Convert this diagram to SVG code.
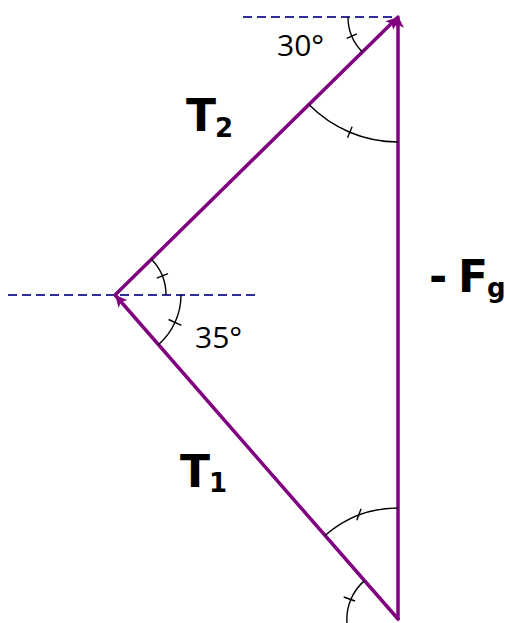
<svg xmlns="http://www.w3.org/2000/svg" width="505" height="623" viewBox="0 0 505 623">
  <style>
    .vec { stroke: #800080; stroke-width: 3.5; fill: none; stroke-linecap: round; }
    .ref { stroke: #2e2e98; stroke-width: 1.8; stroke-dasharray: 9 5; fill: none; }
    .arc { stroke: #000000; stroke-width: 1.4; fill: none; }
    .big { font-family: "DejaVu Sans", Verdana, sans-serif; font-weight: bold; font-size: 44px; fill: #000; }
    .sub { font-family: "DejaVu Sans", Verdana, sans-serif; font-weight: bold; font-size: 26px; fill: #000; }
    .ang { font-family: "Open Sans", "Liberation Sans", sans-serif; font-size: 30px; fill: #000; }
  </style>
  <defs>
    <marker id="ah" viewBox="0 0 10 10" refX="9" refY="5" markerWidth="3.4" markerHeight="3.4" markerUnits="strokeWidth" orient="auto">
      <path d="M0,0 L10,5 L0,10 L2.5,5 Z" fill="#800080"/>
    </marker>
  </defs>

  <g id="reference-lines">
    <line class="ref" x1="243" y1="17" x2="398" y2="17"/>
    <line class="ref" x1="8" y1="295" x2="256" y2="295"/>
  </g>

  <g id="connectors">
    <line id="Fg" class="vec" x1="398" y1="619" x2="398" y2="17" stroke-width="4" marker-end="url(#ah)"/>
    <line id="T1" class="vec" x1="398" y1="619" x2="116" y2="296" marker-end="url(#ah)"/>
    <line id="T2" class="vec" x1="115" y1="295" x2="397" y2="18" marker-end="url(#ah)"/>
  </g>

  <g id="angle-marks">
    <path class="arc" d="M348,17 A50,50 0 0 0 362.4,52"/>
    <line class="arc" x1="346.7" y1="38.4" x2="356.9" y2="33.8"/>
    <path class="arc" d="M308.9,104.6 A125,125 0 0 0 398,142"/>
    <line class="arc" x1="352.1" y1="126.8" x2="347.5" y2="137.8"/>
    <path class="arc" d="M151.4,259.2 A51,51 0 0 1 166,295"/>
    <line class="arc" x1="156.8" y1="278.2" x2="167.9" y2="273.6"/>
    <path class="arc" d="M181,295 A66,66 0 0 1 158.4,344.7"/>
    <line class="arc" x1="168.6" y1="319.5" x2="181.4" y2="325.3"/>
    <path class="arc" d="M398,508 A111,111 0 0 0 325,535.5"/>
    <line class="arc" x1="361.1" y1="508.7" x2="356.8" y2="520.3"/>
    <path class="arc" d="M364.5,580.6 A51,51 0 0 0 347,623"/>
    <line class="arc" x1="355" y1="601" x2="343.7" y2="597"/>
  </g>

  <g id="labels">
    <g id="label-T2">
      <text class="big" x="186" y="131">T</text>
      <text class="sub" x="215" y="137">2</text>
    </g>
    <g id="label-T1">
      <text class="big" x="180" y="487">T</text>
      <text class="sub" x="209" y="492">1</text>
    </g>
    <g id="label-Fg">
      <text class="big" x="429" y="292">-</text>
      <text class="big" x="458" y="292">F</text>
      <text class="sub" x="487" y="297" font-size="25">g</text>
    </g>
    <text id="angle-30" class="ang" x="277" y="56">30°</text>
    <text id="angle-35" class="ang" x="195" y="348">35°</text>
  </g>
</svg>
